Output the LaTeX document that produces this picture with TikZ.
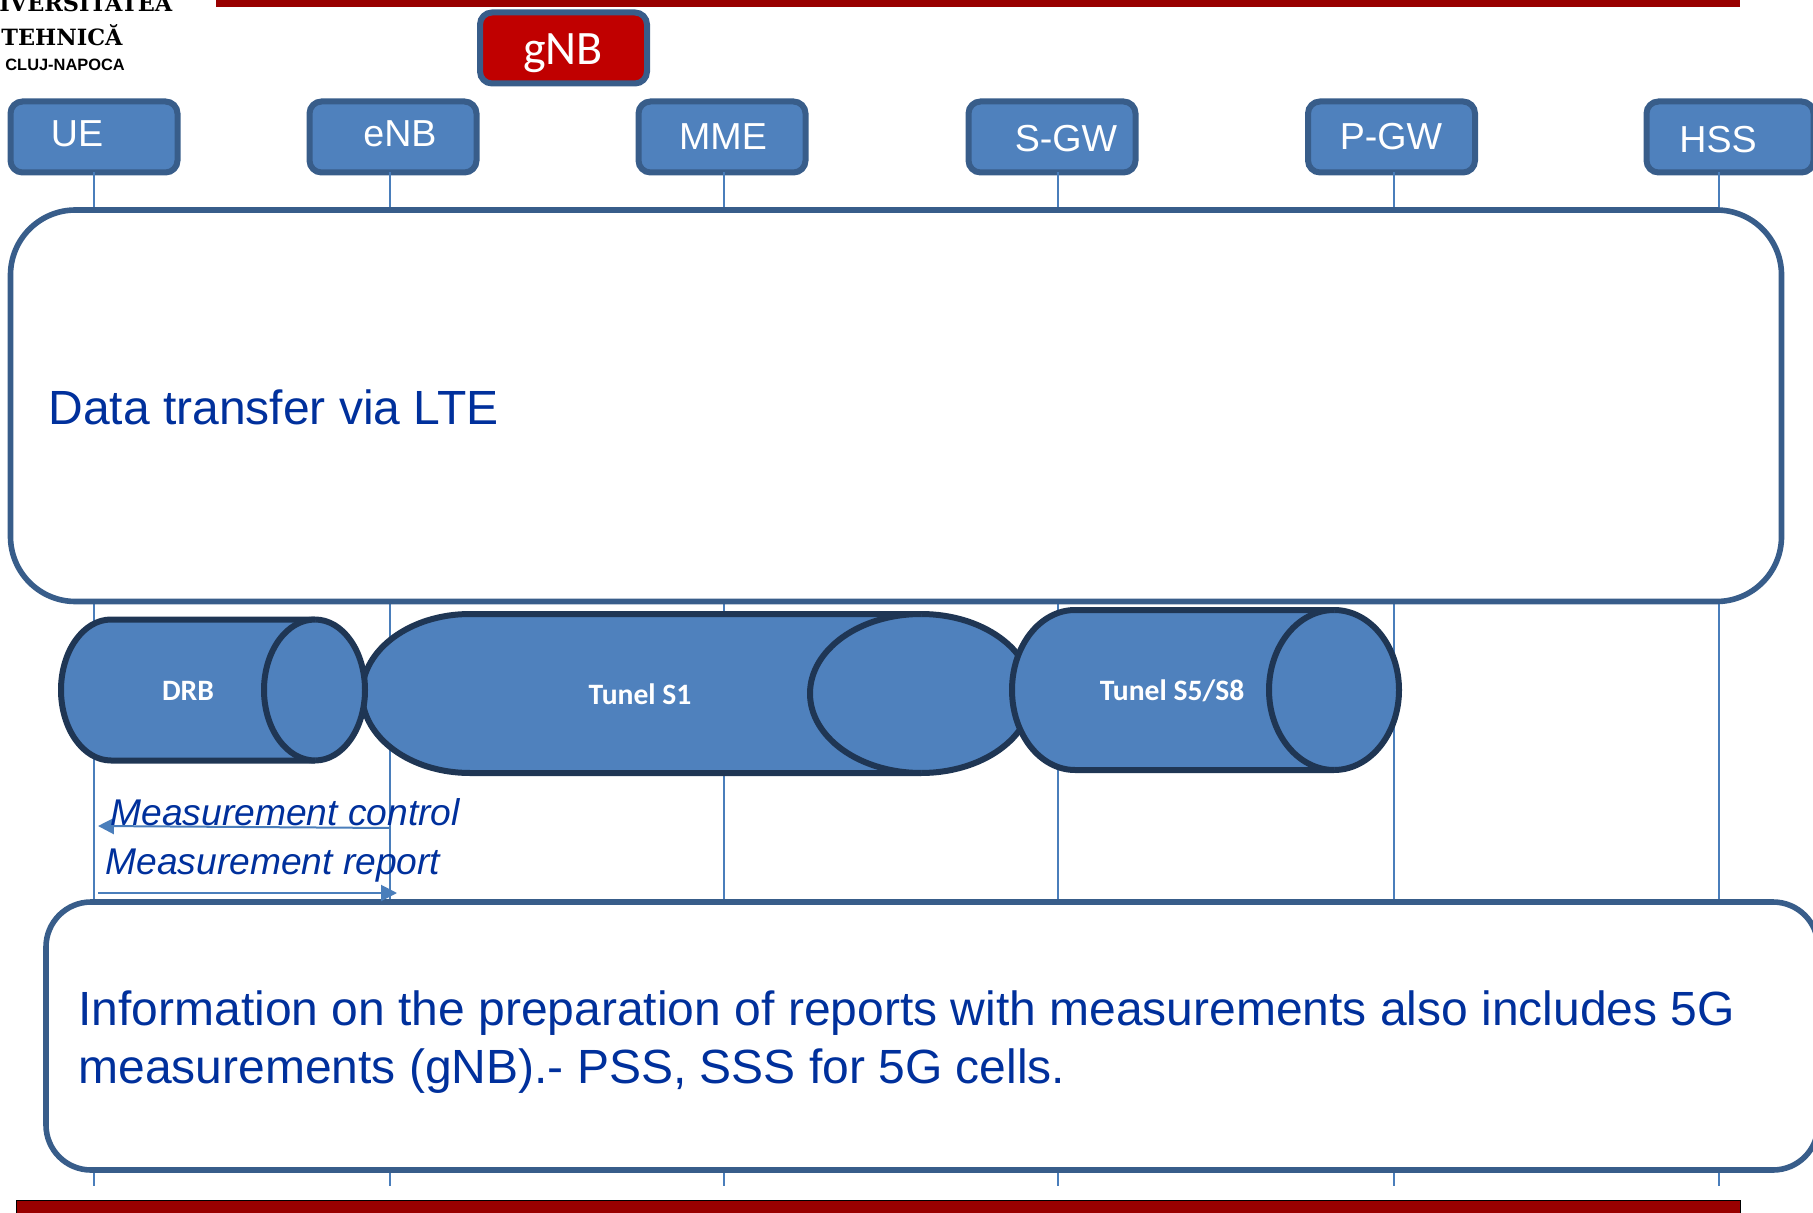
\documentclass[tikz,border=0pt]{standalone}
\usepackage{fontspec}
\setmainfont{Liberation Sans}
\newfontfamily\calib{Carlito}
\newfontfamily\logofont{DejaVu Serif}
\usetikzlibrary{arrows.meta}
\definecolor{boxfill}{HTML}{4F81BD}
\definecolor{boxline}{HTML}{385D8A}
\definecolor{tubeline}{HTML}{1F3654}
\definecolor{barred}{HTML}{990000}
\definecolor{gnbred}{HTML}{C00000}
\definecolor{textblue}{HTML}{00309C}
\definecolor{lifeblue}{HTML}{4A7EBB}
\tikzset{
  x=0.5pt,y=-0.5pt,
  entity/.style={draw=boxline,fill=boxfill,line width=3pt,rounded corners=6pt,minimum width=83.5pt,minimum height=35.5pt,inner sep=0pt,outer sep=0pt},
  gnbbox/.style={entity,fill=gnbred},
  entitytext/.style={text=white,font=\fontsize{18.8}{22}\selectfont,inner sep=0pt},
  lifeline/.style={draw=lifeblue,line width=1pt},
  panel/.style={draw=boxline,fill=white,line width=2.8pt,inner sep=0pt,outer sep=0pt},
  panelhead/.style={text=textblue,font=\fontsize{24}{29}\selectfont,inner sep=0pt,align=left},
  tube/.style={draw=tubeline,fill=boxfill,line width=3pt},
  tubetext/.style={text=white,font=\calib\bfseries\fontsize{14.8}{17}\selectfont,inner sep=0pt},
  msgtext/.style={text=textblue,font=\itshape\fontsize{18.6}{22}\selectfont,inner sep=0pt},
  msg/.style={draw=lifeblue,line width=1pt,-{Triangle[length=8pt,width=8pt,fill=lifeblue]}},
  bar/.style={fill=barred,inner sep=0pt,outer sep=0pt},
  logotext/.style={text=black,inner sep=0pt,anchor=west}
}
\begin{document}
\begin{tikzpicture}
\useasboundingbox (0,0) rectangle (1813,1213);
% lifeline feet
\coordinate (ueb) at (94,1186);
\coordinate (enbb) at (390,1186);
\coordinate (mmeb) at (724,1186);
\coordinate (sgwb) at (1058,1186);
\coordinate (pgwb) at (1394,1186);
\coordinate (hssb) at (1719,1186);
% entities
\node[entity] (ue) at (94,137) {};
\node[entity] (enb) at (393,137) {};
\node[entity] (mme) at (722,137) {};
\node[entity] (sgw) at (1052,137) {};
\node[entity] (pgw) at (1391.5,137) {};
\node[entity] (hss) at (1730,137) {};
\node[gnbbox] (gnb) at (563.5,48) {};
\draw[lifeline] (ueb |- ue.south) -- (ueb);
\draw[lifeline] (enbb |- enb.south) -- (enbb);
\draw[lifeline] (mmeb |- mme.south) -- (mmeb);
\draw[lifeline] (sgwb |- sgw.south) -- (sgwb);
\draw[lifeline] (pgwb |- pgw.south) -- (pgwb);
\draw[lifeline] (hssb |- hss.south) -- (hssb);
\node[entitytext] (uet) at (77,134) {UE};
\node[entitytext] (enbt) at (400,134) {eNB};
\node[entitytext] (mmet) at (723,137) {MME};
\node[entitytext] (sgwt) at (1066,139) {S-GW};
\node[entitytext] (pgwt) at (1391,137) {P-GW};
\node[entitytext] (hsst) at (1718,140) {HSS};
\node[text=white,font=\calib\fontsize{24}{28}\selectfont,inner sep=0pt] (gnbt) at (563,53) {gNB};
% bars
\node[bar,minimum width=762pt,minimum height=3.5pt,anchor=north west] (topbar) at (216,0) {};
\node[bar,draw=black,line width=0.5pt,minimum width=862pt,minimum height=14pt,anchor=north west] (botbar) at (16,1200) {};
% logo
\node[logotext,font=\logofont\bfseries\fontsize{11.2}{13}\selectfont] (l1) at (-1,3) {IVERSITATEA};
\node[logotext,font=\logofont\bfseries\fontsize{11.2}{13}\selectfont] (l2) at (1,35) {TEHNICĂ};
\node[logotext,font=\bfseries\fontsize{8.2}{10}\selectfont] (l3) at (5,65) {CLUJ-NAPOCA};
% panels
\node[panel,rounded corners=32.5pt,minimum width=885.5pt,minimum height=195.75pt] (p1) at (896,405.75) {};
\node[panel,rounded corners=22.5pt,minimum width=886pt,minimum height=134pt] (p2) at (932,1036) {};
\node[panelhead,anchor=west] (p1t) at (48,407) {Data transfer via LTE};
\node[panelhead,anchor=north west] (p2t) at (78,990) {Information on the preparation of reports with measurements also includes 5G\\measurements (gNB).- PSS, SSS for 5G cells.};
% tunnels: S1 first, so that DRB and S5/S8 lie over it
\draw[tube] (470,614) arc[start angle=90,end angle=270,x radius=54pt,y radius=39.75pt] -- (921,773) arc[start angle=-90,end angle=90,x radius=55.5pt,y radius=39.75pt] -- cycle;
\draw[tube] (921,773) arc[start angle=270,end angle=90,x radius=55.5pt,y radius=39.75pt];
\draw[tube] (111,619.5) arc[start angle=90,end angle=270,x radius=25pt,y radius=35.25pt] -- (315,760.5) arc[start angle=-90,end angle=90,x radius=25pt,y radius=35.25pt] -- cycle;
\draw[tube] (315,760.5) arc[start angle=270,end angle=90,x radius=25.5pt,y radius=35.25pt];
\draw[tube] (1075,610) arc[start angle=90,end angle=270,x radius=31.5pt,y radius=40pt] -- (1334,770) arc[start angle=-90,end angle=90,x radius=32.5pt,y radius=40pt] -- cycle;
\draw[tube] (1334,770) arc[start angle=270,end angle=90,x radius=32.5pt,y radius=40pt];
\node[tubetext] (drb) at (188,691) {DRB};
\node[tubetext] (s1) at (640,694) {Tunel S1};
\node[tubetext] (s5) at (1172,691) {Tunel S5/S8};
% messages
\coordinate (c1) at (390,828);
\coordinate (c2) at (98,826);
\coordinate (r1) at (98,893);
\coordinate (r2) at (397,893);
\draw[msg] (c1) -- (c2);
\draw[msg] (r1) -- (r2);
\node[msgtext,anchor=west] (mc) at (110,812) {Measurement control};
\node[msgtext,anchor=west] (mr) at (105,866) {Measurement report};
\end{tikzpicture}
\end{document}
